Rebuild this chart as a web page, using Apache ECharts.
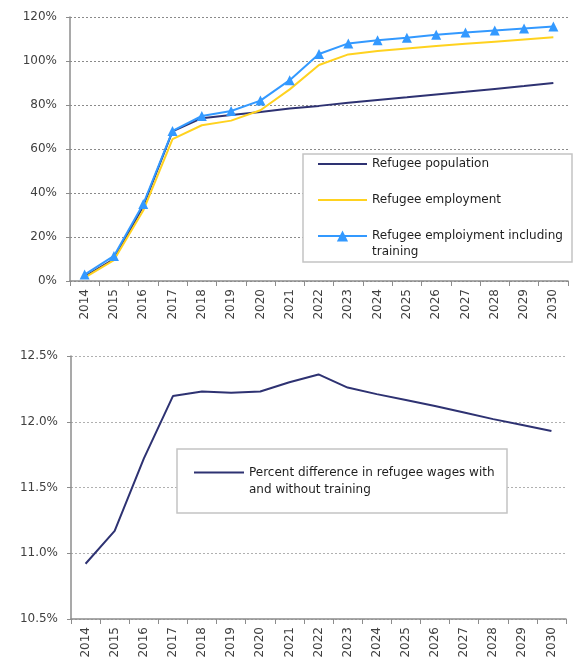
<!DOCTYPE html>
<html>
<head>
<meta charset="utf-8">
<script src="https://cdn.jsdelivr.net/npm/echarts@6/dist/echarts.min.js"></script>
<style>
  html, body { margin: 0; padding: 0; background: #fff; }
  #chart { width: 573px; height: 667px; }
</style>
</head>
<body>
<div id="chart"></div>
<script>
// years on both x axes
const years = ['2014', '2015', '2016', '2017', '2018', '2019', '2020', '2021', '2022',
  '2023', '2024', '2025', '2026', '2027', '2028', '2029', '2030']

// top panel, % of baseline
const refugeePopulation = [2, 10, 34, 68, 74, 75.5, 76.8, 78.4, 79.6, 81, 82.3, 83.5, 84.8, 86, 87.3, 88.6, 90]
const refugeeEmployment = [1.5, 9.5, 32, 64.5, 70.8, 72.9, 77.6, 87.1, 98.2, 103, 104.5, 105.7, 106.8, 107.8, 108.8, 109.8, 110.8]
const refugeeEmploymentTraining = [2.9, 11.4, 35, 68.2, 75, 77.3, 82, 91.3, 103.2, 108, 109.4, 110.6, 111.9, 113, 113.9, 114.8, 115.7]

// bottom panel
const wageDifference = [10.92, 11.17, 11.72, 12.195, 12.23, 12.22, 12.23, 12.30, 12.36, 12.26, 12.21, 12.165, 12.12, 12.07, 12.02, 11.975, 11.93]

const topTicks = { min: 0, max: 120, interval: 20 }
const bottomTicks = { min: 10.5, max: 12.5, interval: 0.5 }

const axisGrey = '#8c8c8c'
const textGrey = '#404040'
const font = 'DejaVu Sans'

const popName = 'Refugee population'
const empName = 'Refugee employment'
const trainName = 'Refugee emploiyment including training'
const wageName = 'Percent difference in refugee wages with and without training'

function xAxis(gridIndex) {
  return {
    type: 'category',
    gridIndex: gridIndex,
    data: years,
    boundaryGap: true,
    axisLine: { lineStyle: { color: axisGrey, width: 1.5 } },
    axisTick: { show: true, length: 5, lineStyle: { color: axisGrey } },
    axisLabel: { rotate: 90, margin: 8, color: textGrey, fontFamily: font, fontSize: 12, interval: 0 },
    splitLine: { show: false }
  }
}

function yAxis(gridIndex, ticks, fmt, dashColor) {
  return {
    type: 'value',
    gridIndex: gridIndex,
    min: ticks.min,
    max: ticks.max,
    interval: ticks.interval,
    axisLine: { show: true, lineStyle: { color: axisGrey, width: 1.5 } },
    axisTick: { show: true, length: 4, lineStyle: { color: axisGrey } },
    axisLabel: { margin: 13, color: textGrey, fontFamily: font, fontSize: 12, formatter: fmt },
    splitLine: { show: true, lineStyle: { color: dashColor, type: [2, 2], width: 1 } }
  }
}

// shared legend settings
function legend(left, top, lineHeight, data, extra) {
  return Object.assign({
    orient: 'vertical',
    left: left,
    top: top,
    itemWidth: 49,
    itemHeight: 14,
    itemGap: 20,
    padding: 0,
    z: 5,
    textStyle: { color: '#1e1e1e', fontFamily: font, fontSize: 12, lineHeight: lineHeight },
    data: data
  }, extra || {})
}

const chart = echarts.init(document.getElementById('chart'))

chart.setOption({
  animation: false,
  textStyle: { fontFamily: font },
  grid: [
    { left: 70, right: 5, top: 17, height: 264 },
    { left: 71, right: 7, top: 356, height: 263 }
  ],
  xAxis: [xAxis(0), xAxis(1)],
  yAxis: [
    yAxis(0, topTicks, '{value}%', '#8a8a8a'),
    yAxis(1, bottomTicks, function (v) { return v.toFixed(1) + '%' }, '#b0b0b0')
  ],
  // white legend boxes
  graphic: [
    { type: 'rect', z: 3, shape: { x: 303, y: 154, width: 269, height: 108 },
      style: { fill: '#fff', stroke: '#c4c4c4', lineWidth: 1.5 } },
    { type: 'rect', z: 3, shape: { x: 177, y: 449, width: 330, height: 64 },
      style: { fill: '#fff', stroke: '#c4c4c4', lineWidth: 1.5 } }
  ],
  legend: [
    legend(317, 156, 16, [
      { name: popName, itemStyle: { opacity: 0 } },
      { name: empName, itemStyle: { opacity: 0 } }
    ]),
    // two-line entries: an empty first line keeps the real first line on the icon
    legend(317, 212, 16, [{ name: trainName }], {
      formatter: function () { return '\nRefugee emploiyment including\ntraining' }
    }),
    legend(193, 447, 17, [{ name: wageName, itemStyle: { opacity: 0 } }], {
      itemWidth: 50,
      formatter: function () { return '\nPercent difference in refugee wages with\nand without training' }
    })
  ],
  series: [
    {
      name: popName,
      type: 'line',
      xAxisIndex: 0, yAxisIndex: 0,
      data: refugeePopulation,
      symbol: 'none',
      lineStyle: { color: '#2e3272', width: 2 },
      itemStyle: { color: '#2e3272' }
    },
    {
      name: empName,
      type: 'line',
      xAxisIndex: 0, yAxisIndex: 0,
      data: refugeeEmployment,
      symbol: 'none',
      lineStyle: { color: '#ffd21f', width: 2 },
      itemStyle: { color: '#ffd21f' }
    },
    {
      name: trainName,
      type: 'line',
      xAxisIndex: 0, yAxisIndex: 0,
      data: refugeeEmploymentTraining,
      symbol: 'triangle',
      symbolSize: 10,
      lineStyle: { color: '#3399ff', width: 2 },
      itemStyle: { color: '#3399ff' }
    },
    {
      name: wageName,
      type: 'line',
      xAxisIndex: 1, yAxisIndex: 1,
      data: wageDifference,
      symbol: 'none',
      lineStyle: { color: '#2e3272', width: 2 },
      itemStyle: { color: '#2e3272' }
    }
  ]
})
</script>
</body>
</html>
